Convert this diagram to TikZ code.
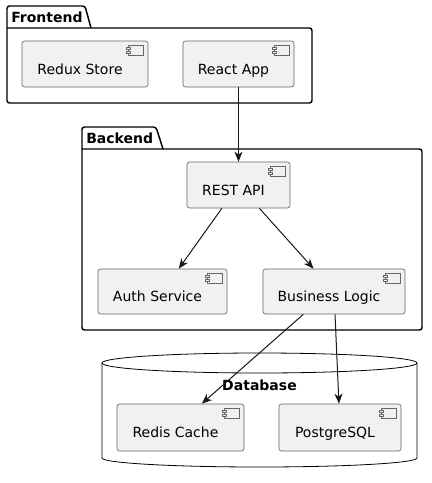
\documentclass[tikz,border=0pt]{standalone}
\usepackage{fontspec}
\usepackage{xcolor}
\usetikzlibrary{arrows.meta}
\setmainfont{DejaVu Sans}

\definecolor{boxfill}{HTML}{F1F1F1}
\definecolor{lineclr}{HTML}{181818}

\tikzset{
  comp/.style={rectangle, draw=black!60, line width=0.5pt, fill=boxfill,
    rounded corners=1.9pt, font=\fontsize{10.5}{12.6}\selectfont,
    text height=16pt, text depth=0.8pt, inner sep=0pt,
    execute at end node={\hspace*{7.5pt}}},
  pkg/.style={draw=black, line width=1.1pt, rounded corners=1.9pt},
  pkgname/.style={anchor=west, inner sep=0pt, font=\fontsize{10.5}{12.6}\selectfont\bfseries},
  icon/.style={draw=black!60, line width=0.4pt, fill=boxfill},
  arr/.style={draw=lineclr, line width=0.75pt, -{Stealth[length=7.5pt, width=6pt, inset=2.2pt]}}
}

% component symbol at the top right of a box
\newcommand{\compicon}[1]{%
  \draw[icon] ([shift={(-20,5)}]#1.north east) rectangle ([shift={(-5,15)}]#1.north east);
  \draw[icon] ([shift={(-22,7)}]#1.north east) rectangle ([shift={(-18,9)}]#1.north east);
  \draw[icon] ([shift={(-22,11)}]#1.north east) rectangle ([shift={(-18,13)}]#1.north east);
}

\begin{document}
\begin{tikzpicture}[x=0.75pt, y=-0.75pt]
    \useasboundingbox (0,0) rectangle (432,483);

    % packages
    \draw[pkg] (91,28) -- (85,6) -- (7,6) -- (7,103) -- (312,103) -- (312,28) -- (7,28);
    \node[pkgname] (frontend) at (11,17) {Frontend};
    \draw[pkg] (163,149) -- (156,127) -- (82,127) -- (82,330) -- (422,330) -- (422,149) -- (82,149);
    \node[pkgname] (backend) at (86,138) {Backend};

    % database
    \draw[draw=black, line width=0.6pt, fill=white] (102,363) -- (102,458)
        arc[start angle=180, end angle=0, x radius=157.5, y radius=9] -- (417,363);
    \draw[draw=black, line width=0.6pt] (259.5,363) ellipse [x radius=157.5, y radius=10];
    \node[font=\fontsize{10.5}{12.6}\selectfont\bfseries, inner sep=0pt] (database) at (259.5,385) {Database};

    % components
    \node[comp, minimum width=94.5pt, minimum height=34.5pt] (redux) at (85,64) {Redux Store};
    \node[comp, minimum width=83.25pt, minimum height=34.5pt] (react) at (238.5,64) {React App};
    \node[comp, minimum width=77.25pt, minimum height=34.5pt] (rest) at (238.5,185) {REST API};
    \node[comp, minimum width=96.75pt, minimum height=33.75pt] (auth) at (162.5,291.5) {Auth Service};
    \node[comp, minimum width=106.5pt, minimum height=33.75pt] (logic) at (334,291.5) {Business Logic};
    \node[comp, minimum width=95.25pt, minimum height=35.25pt] (redis) at (180.5,427.5) {Redis Cache};
    \node[comp, minimum width=91.5pt, minimum height=35.25pt] (pg) at (340,427.5) {PostgreSQL};

    \compicon{redux}
    \compicon{react}
    \compicon{rest}
    \compicon{auth}
    \compicon{logic}
    \compicon{redis}
    \compicon{pg}

    % dependencies
    \draw[arr] (react) -- (rest);
    \draw[arr] (rest) -- (auth);
    \draw[arr] (rest) -- (logic);
    \draw[arr] ([xshift=-23pt]logic.south) -- ([xshift=16pt]redis.north);
    \draw[arr] (logic) -- (pg);
\end{tikzpicture}
\end{document}
